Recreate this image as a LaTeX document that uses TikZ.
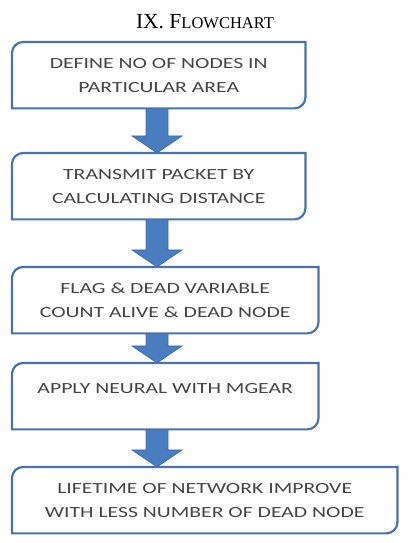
\documentclass[tikz,border=0pt]{standalone}
\usepackage{fontspec}
\setmainfont{Liberation Serif}
\newfontfamily\boxfont[FakeStretch=1.4]{Carlito}
\usetikzlibrary{calc}
\definecolor{boxblue}{HTML}{4A72AC}
\definecolor{arrowblue}{HTML}{4A7DC0}
\definecolor{arrowedge}{HTML}{3E69A6}
\definecolor{textgray}{HTML}{454545}
\begin{document}
\begin{tikzpicture}[x=1pt,y=1pt,
  stepbox/.style={anchor=north west, inner sep=0pt, minimum height=66pt, align=center,
    text=textgray, font=\boxfont\fontsize{15.5}{24}\selectfont},
  boxline/.style={draw=boxblue, line width=2.2pt},
  blockarrow/.style={fill=arrowblue, draw=arrowedge, line width=0.6pt}]
\useasboundingbox (0,0) rectangle (409,543);
\node (title) at (205,521) {\fontsize{21.5}{24}\selectfont IX. F\fontsize{16.5}{24}\selectfont LOWCHART};
\node[stepbox, minimum width=293pt] (b1) at (12,501) {DEFINE NO OF NODES IN\\PARTICULAR AREA};
\node[stepbox, minimum width=293pt] (b2) at (12,390) {TRANSMIT PACKET BY\\CALCULATING DISTANCE};
\node[stepbox, minimum width=306pt] (b3) at (12,276) {FLAG \& DEAD VARIABLE\\COUNT ALIVE \& DEAD NODE};
\node[stepbox, minimum width=306pt] (b4) at (12,180) {APPLY NEURAL WITH MGEAR\\[-8pt]\mbox{}};
\node[stepbox, minimum width=385pt] (b5) at (12,76) {LIFETIME OF NETWORK IMPROVE\\WITH LESS NUMBER OF DEAD NODE};
\foreach \a/\b in {b1/b2,b2/b3,b3/b4,b4/b5}
  \filldraw[blockarrow] ($(\a.south west)+(134,0)$) -- ($(\b.north west)+(134,17)$)
    -- ($(\b.north west)+(120,17)$) -- ($(\b.north west)+(145,0)$)
    -- ($(\b.north west)+(170,17)$) -- ($(\b.north west)+(156,17)$)
    -- ($(\a.south west)+(156,0)$) -- cycle;
\foreach \b in {b1,b2,b3,b4,b5}
  \draw[boxline] (\b.south west) -- ($(\b.north west)+(0,-11)$)
    arc[start angle=180, end angle=90, radius=11] -- (\b.north east)
    -- ($(\b.south east)+(0,11)$) arc[start angle=0, end angle=-90, radius=11] -- cycle;
\end{tikzpicture}
\end{document}
